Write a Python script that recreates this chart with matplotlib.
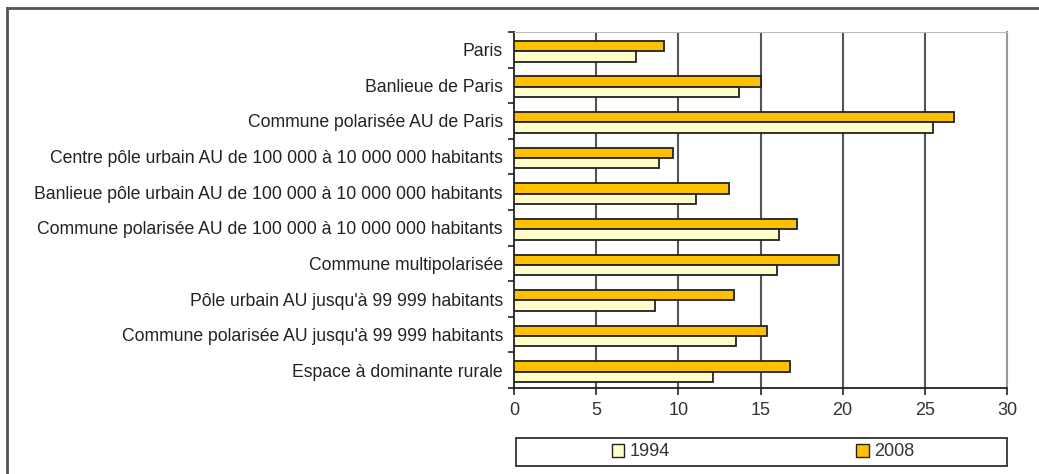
import numpy as np
import matplotlib
matplotlib.use("Agg")
import matplotlib.pyplot as plt
from matplotlib.patches import Rectangle, Patch
from matplotlib.lines import Line2D

plt.rcParams['font.family'] = ['Liberation Sans', 'DejaVu Sans']

categories = [
    "Paris",
    "Banlieue de Paris",
    "Commune polarisée AU de Paris",
    "Centre pôle urbain AU de 100 000 à 10 000 000 habitants",
    "Banlieue pôle urbain AU de 100 000 à 10 000 000 habitants",
    "Commune polarisée AU de 100 000 à 10 000 000 habitants",
    "Commune multipolarisée",
    "Pôle urbain AU jusqu'à 99 999 habitants",
    "Commune polarisée AU jusqu'à 99 999 habitants",
    "Espace à dominante rurale",
]
values_1994 = [7.4, 13.7, 25.5, 8.8, 11.1, 16.1, 16.0, 8.6, 13.5, 12.1]
values_2008 = [9.1, 15.0, 26.8, 9.7, 13.1, 17.2, 19.8, 13.4, 15.4, 16.8]
series_labels = ["1994", "2008"]
xticks = [0, 5, 10, 15, 20, 25, 30]

col_1994 = "#FFFFCC"
col_2008 = "#FFC000"

fig = plt.figure(figsize=(10.39, 4.74), dpi=100)
ax = fig.add_axes([514/1039, 1-388/474, 493/1039, 356/474])

y = np.arange(len(categories))
h = 0.29
ax.barh(y - h/2 + 0.04, values_2008, height=h, color=col_2008, edgecolor="#222222", linewidth=1.3, zorder=3)
ax.barh(y + h/2 + 0.04, values_1994, height=h, color=col_1994, edgecolor="#222222", linewidth=1.3, zorder=3)

ax.set_xlim(0, 30)
ax.set_ylim(len(categories) - 0.5, -0.5)
ax.set_xticks(xticks)
ax.set_xticklabels([str(t) for t in xticks], fontsize=13, color="#333333")
ax.set_yticks(y)
ax.set_yticklabels(categories, fontsize=12.7, color="#222222")
ax.set_yticks(np.arange(len(categories) + 1) - 0.5, minor=True)
ax.tick_params(axis="y", which="major", length=0, pad=8)
ax.tick_params(axis="y", which="minor", length=4, width=1.2, direction="out", color="#222222")
ax.tick_params(axis="x", length=5, width=1.2, direction="out", color="#222222", pad=5)

for v in xticks[1:-1]:
    ax.axvline(v, color="#555555", linewidth=1.5, zorder=1)

ax.spines["left"].set_color("#222222")
ax.spines["left"].set_linewidth(1.3)
ax.spines["bottom"].set_color("#222222")
ax.spines["bottom"].set_linewidth(1.3)
ax.spines["top"].set_color("#bbbbbb")
ax.spines["right"].set_color("#999999")
ax.spines["right"].set_linewidth(1.5)

# legend box
fig.patches.append(Rectangle((516/1039, 1-466/474), 491/1039, 28/474,
                             transform=fig.transFigure, fill=False,
                             edgecolor="#333333", linewidth=1.3))
handles = [Patch(facecolor=col_1994, edgecolor="#222222", linewidth=1.0),
           Patch(facecolor=col_2008, edgecolor="#222222", linewidth=1.0)]
fig.legend(handles, series_labels, loc="center", ncol=2,
           bbox_to_anchor=(763/1039, 1-452/474), frameon=False,
           fontsize=13, handlelength=0.7, handleheight=0.7,
           handletextpad=0.3, columnspacing=10.3, labelcolor="#333333")

# outer frame (top and left edges)
fig.lines.append(Line2D([7/1039, 1.0], [1-8/474, 1-8/474], transform=fig.transFigure,
                        color="#555555", linewidth=2))
fig.lines.append(Line2D([7/1039, 7/1039], [0.0, 1-8/474], transform=fig.transFigure,
                        color="#555555", linewidth=2))

fig.savefig("out.png", dpi=100)
